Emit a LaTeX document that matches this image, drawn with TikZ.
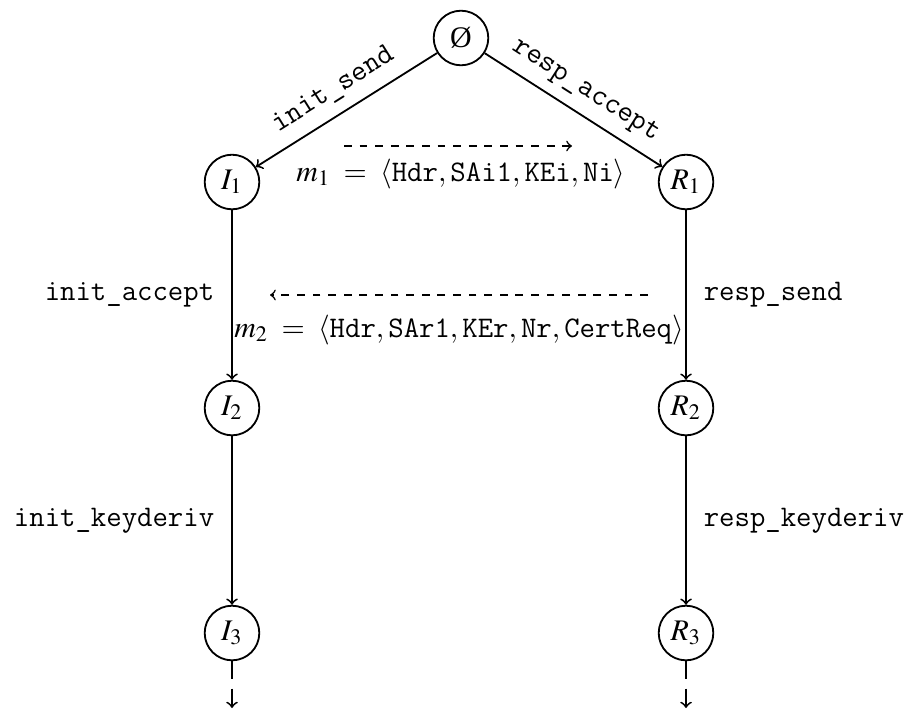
\documentclass[tikz,border=0pt]{standalone}
\usepackage{mathptmx}
\usepackage[no-math]{fontspec}
\setmainfont{Liberation Serif}
% typewriter labels in Latin Modern Mono, set a little larger
\newcommand\tw{\fontsize{11.5pt}{13pt}\selectfont\ttfamily}
\newcommand\tf[1]{\mbox{\tw #1}}
\newcommand\sep{,\mkern0.5mu}
\begin{document}
\begin{tikzpicture}[x=0.3846pt,y=-0.3846pt,
  font=\fontsize{11.5pt}{13pt}\selectfont,
  state/.style={circle,draw,line width=0.7pt,minimum size=21pt,inner sep=0pt},
  trans/.style={->,line width=0.7pt},
  msg/.style={->,dashed,line width=0.6pt},
  tail/.style={->,line width=0.7pt,dash pattern=on 7pt off 3.5pt},
  lbl/.style={font=\tw,inner xsep=6.5pt},
  slbl/.style={font=\tw,inner sep=4pt}]
\useasboundingbox (0,0) rectangle (909,714);

% protocol states
\node[state] (top) at (461,38) {Ø};
\node[state] (I1) at (232,182) {$I_1$};
\node[state] (R1) at (686,182) {$R_1$};
\node[state] (I2) at (232,408) {$I_2$};
\node[state] (R2) at (686,408) {$R_2$};
\node[state] (I3) at (232,633) {$I_3$};
\node[state] (R3) at (686,633) {$R_3$};

% transitions
\draw[trans,<-] (I1) -- node[midway,above,sloped,slbl] {init\_send} (top);
\draw[trans] (top) -- node[midway,above,sloped,slbl] {resp\_accept} (R1);
\draw[trans] (I1) -- node[midway,left,lbl] {init\_accept} (I2);
\draw[trans] (R1) -- node[midway,right,lbl] {resp\_send} (R2);
\draw[trans] (I2) -- node[midway,left,lbl] {init\_keyderiv} (I3);
\draw[trans] (R2) -- node[midway,right,lbl] {resp\_keyderiv} (R3);

% continuation
\coordinate (Iend) at (232,708);
\coordinate (Rend) at (686,708);
\draw[tail] (I3) -- (Iend);
\draw[tail] (R3) -- (Rend);

% messages
\coordinate (m1s) at (344,146);
\coordinate (m1e) at (572,146);
\draw[msg] (m1s) -- (m1e);
\node (m1) at (461,174)
  {$m_1 \;=\; \langle\tf{Hdr}\sep \tf{SAi1}\sep \tf{KEi}\sep \tf{Ni}\rangle$};

\coordinate (m2s) at (648,295);
\coordinate (m2e) at (270,295);
\draw[msg] (m2s) -- (m2e);
\node (m2) at (459,330)
  {$m_2 \;=\; \langle\tf{Hdr}\sep \tf{SAr1}\sep \tf{KEr}\sep \tf{Nr}\sep \tf{CertReq}\rangle$};
\end{tikzpicture}
\end{document}
